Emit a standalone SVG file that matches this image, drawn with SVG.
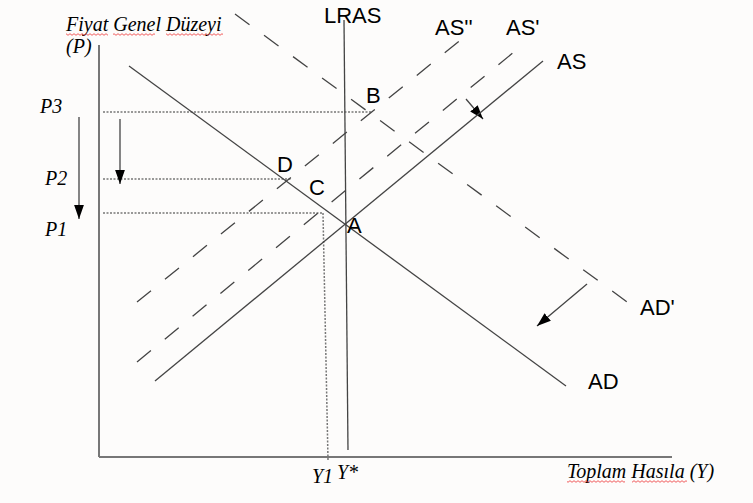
<svg xmlns="http://www.w3.org/2000/svg" width="753" height="503" viewBox="0 0 753 503">
<defs>
<style>
.ax{stroke:#777;stroke-width:2;fill:none}
.ln{stroke:#444;stroke-width:1.3;fill:none}
.ds{stroke:#444;stroke-width:1.3;fill:none;stroke-dasharray:18 18}
.dt{stroke:#777;stroke-width:1.5;fill:none;stroke-dasharray:2 1.5}
.lb{font-family:"Liberation Sans",Arial,sans-serif;font-size:22px;fill:#000}
.it{font-family:"Liberation Serif","Times New Roman",serif;font-style:italic;font-size:20px;fill:#000}
</style>
<pattern id="wave" x="0" y="0" width="4" height="3" patternUnits="userSpaceOnUse">
<path d="M0,2.3 L2,0.7 L4,2.3" stroke="#e33" stroke-width="0.8" fill="none"/>
</pattern>
<marker id="ahb" viewBox="0 0 10 10" refX="10" refY="5" markerWidth="14" markerHeight="14" markerUnits="userSpaceOnUse" orient="auto">
<path d="M0,1.5 L10,5 L0,8.5 Z" fill="#000"/>
</marker>
</defs>
<rect width="753" height="503" fill="#fdfcfb"/>
<g id="axes">
<line class="ax" x1="99" y1="45" x2="99" y2="457"/>
<line class="ax" x1="99" y1="457" x2="672" y2="457"/>
</g>
<g id="connectors">
<line class="dt" x1="103" y1="112" x2="372" y2="112"/>
<line class="dt" x1="103" y1="179" x2="292" y2="179"/>
<line class="dt" x1="103" y1="213" x2="323" y2="213"/>
<line class="dt" x1="323" y1="213" x2="328" y2="460"/>
<line class="ln" x1="79" y1="117" x2="79" y2="219" marker-end="url(#ahb)"/>
<line class="ln" x1="120" y1="119" x2="120" y2="184" marker-end="url(#ahb)"/>
<line class="ln" x1="466" y1="99" x2="483" y2="119" marker-end="url(#ahb)"/>
<line class="ln" x1="587" y1="284" x2="537" y2="326" marker-end="url(#ahb)"/>
</g>
<g id="LRAS">
<line class="ln" x1="344" y1="20" x2="348" y2="450"/>
<text class="lb" x="324" y="23">LRAS</text>
</g>
<g id="AD">
<line class="ln" x1="129" y1="66" x2="566" y2="386"/>
<text class="lb" x="588" y="389">AD</text>
</g>
<g id="ADp">
<line class="ds" x1="235" y1="14" x2="634" y2="307"/>
<text class="lb" x="640" y="315">AD'</text>
</g>
<g id="AS">
<line class="ln" x1="155" y1="381" x2="543" y2="61"/>
<text class="lb" x="557" y="69">AS</text>
</g>
<g id="ASp">
<line class="ds" x1="137" y1="362" x2="520" y2="47"/>
<text class="lb" x="506" y="35">AS'</text>
</g>
<g id="ASpp">
<line class="ds" x1="137" y1="302" x2="463" y2="38"/>
<text class="lb" x="435" y="35">AS''</text>
</g>
<g id="points">
<text class="lb" x="366" y="103">B</text>
<text class="lb" x="277" y="172">D</text>
<text class="lb" x="309" y="195">C</text>
<text class="lb" x="347" y="233">A</text>
</g>
<g id="labels">
<text class="it" x="66" y="31">Fiyat Genel Düzeyi</text>
<text class="it" x="66" y="53">(P)</text>
<text class="it" x="40" y="113">P3</text>
<text class="it" x="45" y="185">P2</text>
<text class="it" x="45" y="236">P1</text>
<text class="it" x="312" y="483">Y1</text>
<text class="it" x="337" y="479">Y*</text>
<text class="it" x="567" y="478">Toplam Hasıla (Y)</text>
<rect x="66" y="33" width="42" height="3" fill="url(#wave)"/>
<rect x="113" y="33" width="42" height="3" fill="url(#wave)"/>
<rect x="166" y="33" width="57" height="3" fill="url(#wave)"/>
<rect x="567" y="480" width="58" height="3" fill="url(#wave)"/>
<rect x="632" y="480" width="55" height="3" fill="url(#wave)"/>
</g>
</svg>
